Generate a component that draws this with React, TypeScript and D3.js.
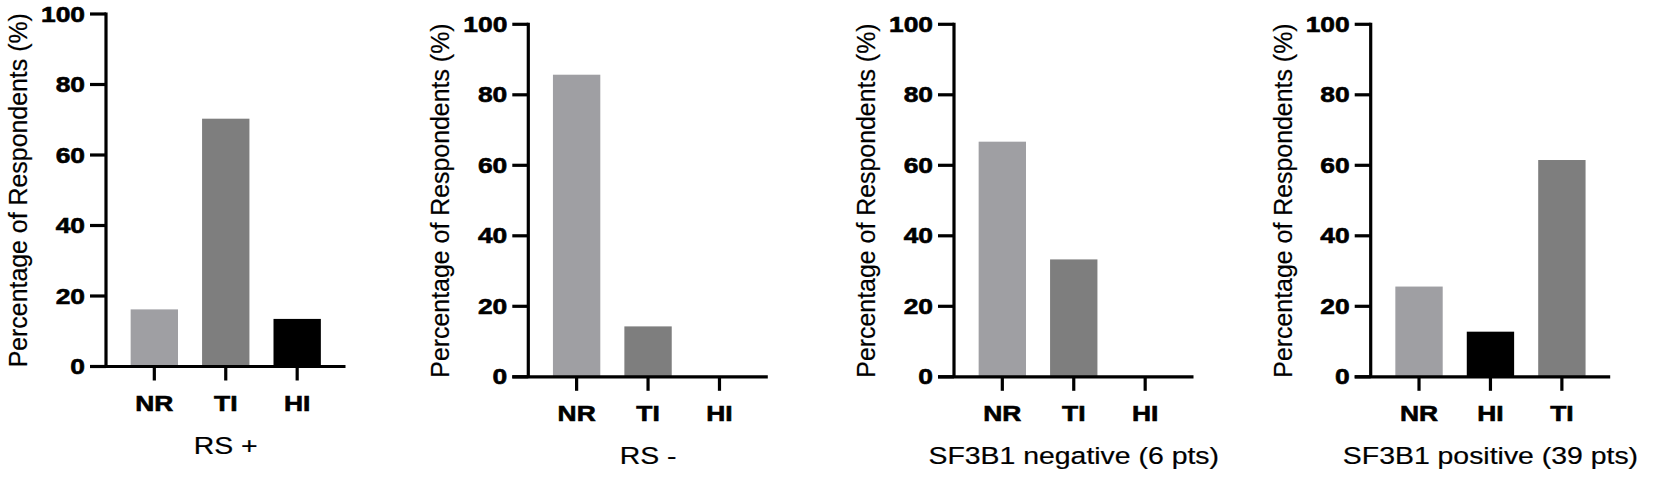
import React from "react";
import * as d3 from "d3";

// ---- data ----
const panelTitles = ["RS +", "RS -", "SF3B1 negative (6 pts)", "SF3B1 positive (39 pts)"];
const catsRsPos = ["NR", "TI", "HI"];
const catsRsNeg = ["NR", "TI", "HI"];
const catsSfNeg = ["NR", "TI", "HI"];
const catsSfPos = ["NR", "HI", "TI"];
const valsRsPos = [16.2, 70.3, 13.5];
const valsRsNeg = [85.7, 14.3, 0];
const valsSfNeg = [66.7, 33.3, 0];
const valsSfPos = [25.6, 12.8, 61.5];
const yTicks = [0, 20, 40, 60, 80, 100];
const yLabel = "Percentage of Respondents (%)";

const catColor: Record<string, string> = { NR: "#9f9fa3", TI: "#7e7e7e", HI: "#000000" };

// ---- layout ----
const W = 1654;
const H = 480;
const axisXs = [106, 528.3, 954, 1370.7];
const topYs = [14, 24.3, 24.3, 24.3];
const plotH = 352.5;
const axisLen = 239.5;
const FONT = "'Liberation Sans', Arial, Helvetica, sans-serif";
const SX = 1.2;

const panels = [
  { cats: catsRsPos, vals: valsRsPos },
  { cats: catsRsNeg, vals: valsRsNeg },
  { cats: catsSfNeg, vals: valsSfNeg },
  { cats: catsSfPos, vals: valsSfPos },
];

function Panel({ idx }: { idx: number }) {
  const { cats, vals } = panels[idx];
  const x0 = axisXs[idx];
  const top = topYs[idx];
  const bottom = top + plotH;
  const y = d3.scaleLinear().domain([0, 100]).range([bottom, top]);
  const x = d3
    .scaleBand<string>()
    .domain(cats)
    .range([x0, x0 + axisLen])
    .paddingInner(0.337)
    .paddingOuter(0.345);
  const bw = x.bandwidth();
  const mid = x0 + axisLen / 2;
  return (
    <g>
      {cats.map((c, i) => (
        <rect
          key={c}
          x={x(c)!}
          y={y(vals[i])}
          width={bw}
          height={bottom - y(vals[i])}
          fill={catColor[c]}
        />
      ))}
      {/* y axis */}
      <line x1={x0} x2={x0} y1={top - 1.5} y2={bottom} stroke="#000" strokeWidth={3.2} />
      {yTicks.map((t) => (
        <g key={t}>
          <line x1={x0 - 16} x2={x0} y1={y(t)} y2={y(t)} stroke="#000" strokeWidth={3.2} />
          <text
            transform={`translate(${x0 - 21},${y(t)}) scale(${SX},1)`}
            textAnchor="end"
            dominantBaseline="central"
            fontFamily={FONT}
            fontWeight="bold"
            fontSize={22}
            fill="#000"
            stroke="#000"
            strokeWidth={0.6}
          >
            {t}
          </text>
        </g>
      ))}
      {/* x axis */}
      <line x1={x0 - 16} x2={x0 + axisLen} y1={bottom} y2={bottom} stroke="#000" strokeWidth={3.2} />
      {cats.map((c) => {
        const cx = x(c)! + bw / 2;
        return (
          <g key={c}>
            <line x1={cx} x2={cx} y1={bottom} y2={bottom + 14} stroke="#000" strokeWidth={3.2} />
            <text
              transform={`translate(${cx},${bottom + 44}) scale(${SX},1)`}
              textAnchor="middle"
              fontFamily={FONT}
              fontWeight="bold"
              fontSize={22}
              fill="#000"
              stroke="#000"
              strokeWidth={0.6}
            >
              {c}
            </text>
          </g>
        );
      })}
      <text
        transform={`translate(${mid},${bottom + 87.5}) scale(1.22,1)`}
        textAnchor="middle"
        fontFamily={FONT}
        fontSize={23.3}
        fill="#000"
        stroke="#000"
        strokeWidth={0.2}
      >
        {panelTitles[idx]}
      </text>
      <text
        transform={`translate(${x0 - 79},${(top + bottom) / 2}) rotate(-90)`}
        textAnchor="middle"
        fontFamily={FONT}
        fontSize={24.9}
        fill="#000"
        stroke="#000"
        strokeWidth={0.2}
      >
        {yLabel}
      </text>
    </g>
  );
}

export default function App() {
  return (
    <svg
      width={W}
      height={H}
      viewBox={`0 0 ${W} ${H}`}
      style={{ position: "absolute", left: 0, top: 0, background: "#fff" }}
    >
      <rect width={W} height={H} fill="#fff" />
      {panels.map((_, i) => (
        <Panel key={i} idx={i} />
      ))}
    </svg>
  );
}
